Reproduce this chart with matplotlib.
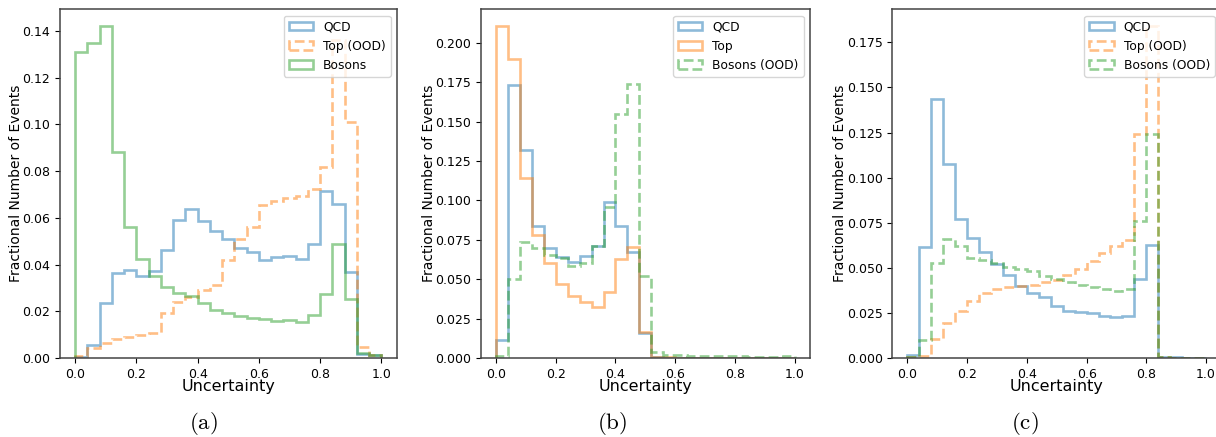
import matplotlib
matplotlib.use("Agg")
import matplotlib.pyplot as plt
import numpy as np

plt.rcParams["mathtext.fontset"] = "cm"

# 25 bins on [0, 1]
BIN_EDGES = np.linspace(0.0, 1.0, 26)

# (a) trained on QCD + Bosons, Top is OOD
A_QCD = [0.0003, 0.0054, 0.0237, 0.0362, 0.0377, 0.0351, 0.0374, 0.0463, 0.0591, 0.0638,
         0.0588, 0.0543, 0.0510, 0.0469, 0.0454, 0.0421, 0.0433, 0.0436, 0.0423, 0.0490,
         0.0716, 0.0660, 0.0367, 0.0017, 0.0011]
A_TOP = [0.0009, 0.0041, 0.0063, 0.0080, 0.0088, 0.0098, 0.0108, 0.0194, 0.0241, 0.0263,
         0.0291, 0.0313, 0.0420, 0.0508, 0.0562, 0.0655, 0.0672, 0.0684, 0.0694, 0.0722,
         0.0819, 0.1360, 0.1012, 0.0049, 0.0013]
A_BOSONS = [0.1310, 0.1347, 0.1421, 0.0881, 0.0562, 0.0422, 0.0352, 0.0303, 0.0277, 0.0265,
            0.0237, 0.0206, 0.0191, 0.0180, 0.0170, 0.0166, 0.0160, 0.0163, 0.0156, 0.0184,
            0.0274, 0.0487, 0.0251, 0.0023, 0.0013]

# (b) trained on QCD + Top, Bosons is OOD
B_QCD = [0.0116, 0.1734, 0.1320, 0.0840, 0.0696, 0.0644, 0.0608, 0.0648, 0.0713, 0.0992,
         0.0838, 0.0671, 0.0158, 0.0006, 0.0003, 0.0002, 0.0002, 0.0002, 0.0001, 0.0001,
         0.0001, 0.0001, 0.0001, 0.0001, 0.0001]
B_TOP = [0.2107, 0.1896, 0.1144, 0.0781, 0.0602, 0.0469, 0.0395, 0.0353, 0.0323, 0.0418,
         0.0627, 0.0707, 0.0163, 0.0006, 0.0004, 0.0003, 0.0003, 0.0002, 0.0002, 0.0002,
         0.0002, 0.0002, 0.0002, 0.0002, 0.0003]
B_BOSONS = [0.0010, 0.0500, 0.0739, 0.0696, 0.0654, 0.0633, 0.0587, 0.0601, 0.0713, 0.0956,
            0.1550, 0.1740, 0.0520, 0.0036, 0.0022, 0.0016, 0.0013, 0.0012, 0.0011, 0.0010,
            0.0010, 0.0009, 0.0009, 0.0009, 0.0015]

# (c) trained on QCD only, Top and Bosons are OOD
C_QCD = [0.0017, 0.0618, 0.1433, 0.1073, 0.0773, 0.0664, 0.0590, 0.0520, 0.0459, 0.0400,
         0.0363, 0.0339, 0.0286, 0.0262, 0.0253, 0.0249, 0.0231, 0.0229, 0.0234, 0.0437,
         0.0629, 0.0007, 0.0003, 0.0002, 0.0001]
C_TOP = [0.0004, 0.0013, 0.0105, 0.0194, 0.0262, 0.0317, 0.0363, 0.0382, 0.0391, 0.0400,
         0.0406, 0.0419, 0.0431, 0.0459, 0.0492, 0.0538, 0.0581, 0.0621, 0.0655, 0.1239,
         0.1840, 0.0004, 0.0002, 0.0001, 0.0001]
C_BOSONS = [0.0007, 0.0101, 0.0524, 0.0662, 0.0621, 0.0557, 0.0542, 0.0524, 0.0505, 0.0496,
            0.0483, 0.0455, 0.0437, 0.0419, 0.0406, 0.0391, 0.0382, 0.0372, 0.0382, 0.0760,
            0.1239, 0.0004, 0.0002, 0.0001, 0.0001]

PANELS = [
    ("(a)", [(A_QCD, "QCD", "-"), (A_TOP, "Top (OOD)", "--"), (A_BOSONS, "Bosons", "-")]),
    ("(b)", [(B_QCD, "QCD", "-"), (B_TOP, "Top", "-"), (B_BOSONS, "Bosons (OOD)", "--")]),
    ("(c)", [(C_QCD, "QCD", "-"), (C_TOP, "Top (OOD)", "--"), (C_BOSONS, "Bosons (OOD)", "--")]),
]
COLORS = ["tab:blue", "tab:orange", "tab:green"]

# axes boxes in figure fractions, caption x centres
AX_RECTS = [
    [0.0493, 0.1808, 0.2769, 0.7975],
    [0.3956, 0.1808, 0.2702, 0.7975],
    [0.7339, 0.1808, 0.2702, 0.7975],
]
CAPTION_X = [0.1674, 0.5033, 0.8429]


def plot_panel(ax, series):
    centers = 0.5 * (BIN_EDGES[:-1] + BIN_EDGES[1:])
    for (vals, label, ls), color in zip(series, COLORS):
        ax.hist(centers, bins=BIN_EDGES, weights=vals, histtype="step",
                linewidth=1.9, alpha=0.5, color=color, linestyle=ls, label=label)
    ax.set_xlabel("Uncertainty", fontsize=11.5, labelpad=-1)
    ax.set_ylabel("Fractional Number of Events", fontsize=10, labelpad=-0.5)
    ax.tick_params(labelsize=9)
    ax.legend(loc="upper right", fontsize=8.8)
    for sp in ax.spines.values():
        sp.set_color("#444444")
        sp.set_linewidth(1.1)


def main():
    fig = plt.figure(figsize=(12.16, 4.37), dpi=100)
    for (tag, series), rect, cx in zip(PANELS, AX_RECTS, CAPTION_X):
        ax = fig.add_axes(rect)
        plot_panel(ax, series)
        fig.text(cx, 0.03, r"$\mathrm{" + tag + "}$", fontsize=16.5,
                 ha="center", va="center")
    fig.savefig("out.png", dpi=100)
    plt.close(fig)


if __name__ == "__main__":
    main()
